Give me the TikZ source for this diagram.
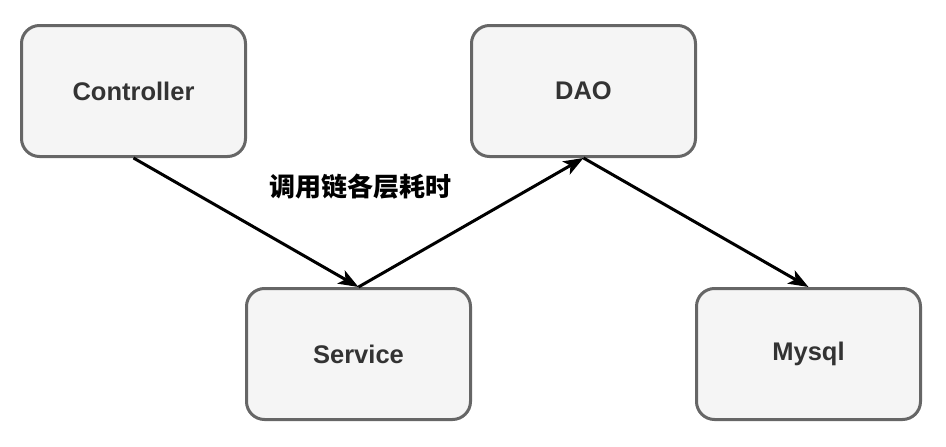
\documentclass[tikz,border=0pt]{standalone}
\usepackage{fontspec}
\setmainfont{Liberation Sans}
\newfontfamily\cjk{Noto Sans CJK SC}
\usetikzlibrary{arrows.meta}
\definecolor{boxfill}{HTML}{F5F5F5}
\definecolor{boxline}{HTML}{666666}
\definecolor{txt}{HTML}{333333}
\begin{document}
\begin{tikzpicture}[x=1pt,y=-1pt,
  box/.style={draw=boxline,fill=boxfill,line width=3pt,rounded corners=18pt,
    minimum width=224pt,minimum height=131pt,inner sep=0pt,
    font=\fontsize{25.5}{28}\selectfont\bfseries,text=txt},
  conn/.style={line width=3pt,-{Stealth[length=20pt,width=15pt,inset=5pt]}}]
\useasboundingbox (0,0) rectangle (946,447);
\node[box] (ctrl) at (133.5,91) {Controller};
\node[box] (dao) at (583.5,91) {DAO};
\node[box] (svc) at (358.5,354) {Service};
\node[box] (mysql) at (808.5,354) {Mysql};
\node[font=\cjk\fontsize{26}{28}\selectfont\bfseries] (lbl) at (360,187) {调用链各层耗时};
\draw[conn] (ctrl.south) -- (svc.north);
\draw[conn] (svc.north) -- (dao.south);
\draw[conn] (dao.south) -- (mysql.north);
\end{tikzpicture}
\end{document}
